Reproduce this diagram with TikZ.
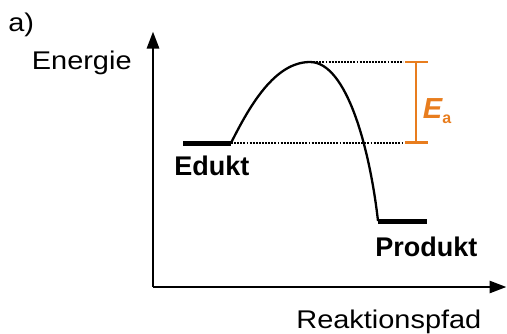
\documentclass[tikz,border=0pt]{standalone}
\usepackage{fontspec}
\setmainfont{Liberation Sans}
\newfontfamily\widefont[FakeStretch=1.13]{Liberation Sans}
\usetikzlibrary{arrows.meta}
\definecolor{barrierO}{HTML}{E87D1E}

\begin{document}
\begin{tikzpicture}[x=0.5pt, y=-0.5pt,
  axis/.style={line width=1.4pt, -{Triangle[length=8.5pt, width=6pt]}},
  level/.style={line width=2.5pt},
  pathline/.style={line width=1.15pt},
  guide/.style={line width=0.95pt, dash pattern=on 0.95pt off 0.6pt},
  gap/.style={barrierO, line width=1.3pt},
  lbl/.style={inner sep=0pt, anchor=base west, font=\widefont\fontsize{12.8}{14}\selectfont},
  state/.style={inner sep=0pt, anchor=base west, font=\bfseries\fontsize{13.5}{15}\selectfont}]
  \useasboundingbox (0,0) rectangle (507,333);
  % axes
  \coordinate (O) at (153,287);
  \coordinate (ytip) at (153,31.5);
  \coordinate (xtip) at (506.5,287);
  \draw[axis] (O) -- (ytip);
  \draw[axis] (O) -- (xtip);
  \node[lbl] (panel) at (8,31.7) {a)};
  \node[lbl] (ylab) at (31.5,69) {Energie};
  \node[lbl] (xlab) at (296,328.3) {Reaktionspfad};
  % energy levels
  \coordinate (ed0) at (183,143);
  \coordinate (ed1) at (231,143);
  \coordinate (ts) at (310,62);
  \coordinate (pr0) at (378,221);
  \coordinate (pr1) at (427,221);
  \draw[level] (ed0) -- (ed1);
  \draw[level] (pr0) -- (pr1);
  \node[state] (edukt) at (174,175) {Edukt};
  \node[state] (produkt) at (375,256.5) {Produkt};
  % reaction path
  \draw[pathline] (ed1) .. controls (250,105) and (275,62) .. (ts)
     .. controls (347,62) and (370,150) .. (pr0);
  % activation energy
  \coordinate (gt) at (403,62);
  \coordinate (gb) at (403,143);
  \draw[guide] (ts) -- (gt);
  \draw[guide] (ed1) -- (gb);
  \draw[gap] (416,62) -- (416,142.5);
  \draw[gap] (405,62) -- (428,62);
  \draw[gap] (405,142.5) -- (428,142.5);
  \node[inner sep=0pt, anchor=base west, text=barrierO,
     font=\bfseries\itshape\fontsize{14.5}{16}\selectfont] (ea) at (422.5,118)
     {E\raisebox{-2.6pt}{\upshape\fontsize{8}{9}\selectfont a}};
\end{tikzpicture}
\end{document}
